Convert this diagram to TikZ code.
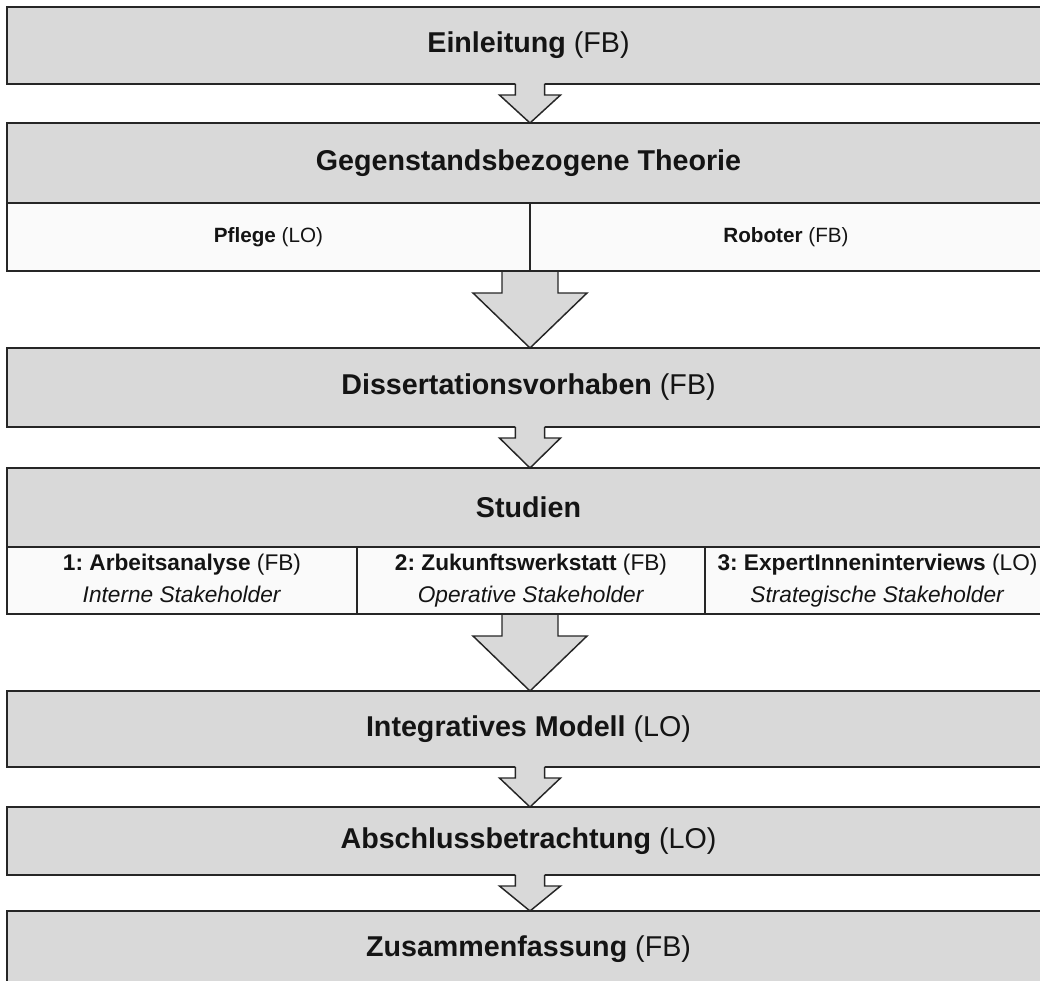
\documentclass[tikz,border=0pt]{standalone}
\usepackage{fontspec}
\setmainfont{Liberation Sans}
\usetikzlibrary{calc}
\definecolor{boxgray}{HTML}{D9D9D9}
\definecolor{rowwhite}{HTML}{FAFAFA}
\definecolor{edge}{HTML}{262626}
\definecolor{ink}{HTML}{141414}
\frenchspacing

% horizontal axis of all block arrows
\def\arrowaxis{397.5pt}

% #1 from node, #2 to node, #3 stem half width, #4 head half width,
% #5 stem length, #6 how far the fill reaches up into the upper box
\newcommand\blockarrow[6]{%
  \fill[boxgray] let \p1=(#1.south), \p2=(#2.north) in
    ({\arrowaxis-#3},{\y1+#6}) -- ({\arrowaxis-#3},{\y1-#5}) -- ({\arrowaxis-#4},{\y1-#5})
    -- ({\arrowaxis},{\y2}) -- ({\arrowaxis+#4},{\y1-#5}) -- ({\arrowaxis+#3},{\y1-#5})
    -- ({\arrowaxis+#3},{\y1+#6}) -- cycle;
  \draw[arrowline] let \p1=(#1.south), \p2=(#2.north) in
    ({\arrowaxis-#3},{\y1}) -- ({\arrowaxis-#3},{\y1-#5}) -- ({\arrowaxis-#4},{\y1-#5})
    -- ({\arrowaxis},{\y2}) -- ({\arrowaxis+#4},{\y1-#5}) -- ({\arrowaxis+#3},{\y1-#5})
    -- ({\arrowaxis+#3},{\y1});
}
\newcommand\smallblockarrow[2]{\blockarrow{#1}{#2}{10.9pt}{22.9pt}{8.25pt}{1.2pt}}
\newcommand\bigblockarrow[2]{\blockarrow{#1}{#2}{21pt}{42.75pt}{16.5pt}{-0.8pt}}

\begin{document}
\begin{tikzpicture}[x=0.75pt,y=-0.75pt,
  box/.style={draw=edge, line width=1.5pt, fill=boxgray, anchor=north west,
    inner sep=0pt, outer sep=0pt, text=ink, align=center,
    minimum width=782.25pt, font=\fontsize{21.5}{25}\selectfont},
  rowbox/.style={draw=edge, line width=1.5pt, fill=rowwhite, anchor=north west,
    inner sep=0pt, outer sep=0pt, text=ink, align=center},
  themerow/.style={rowbox, minimum height=51pt, font=\fontsize{15.5}{19}\selectfont},
  studyrow/.style={rowbox, minimum height=50.25pt, font=\fontsize{17}{24}\selectfont},
  arrowline/.style={draw=edge, line width=1.1pt, line join=miter},
]
\useasboundingbox (0,0) rectangle (1040,981);
\clip (0,0) rectangle (1040,981);

% chapters
\node[box, minimum height=57.75pt] (ein) at (7,7) {\textbf{Einleitung} (FB)};
\node[box, minimum height=60pt] (geg) at (7,123) {\textbf{Gegenstandsbezogene Theorie}};
\node[themerow, minimum width=392.25pt] (pfl) at (7,203) {\textbf{Pflege} (LO)};
\node[themerow, minimum width=384pt] (rob) at (530,203) {\textbf{Roboter} (FB)};
\node[box, minimum height=59.25pt] (diss) at (7,348) {\textbf{Dissertationsvorhaben} (FB)};
\node[box, minimum height=59.25pt] (stud) at (7,468) {\textbf{Studien}};
\node[studyrow, minimum width=262.5pt] (s1) at (7,547)
  {\strut\textbf{1: Arbeitsanalyse} (FB)\\\strut\textit{Interne Stakeholder}};
\node[studyrow, minimum width=261pt] (s2) at (357,547)
  {\strut\textbf{2: Zukunftswerkstatt} (FB)\\\strut\textit{Operative Stakeholder}};
\node[studyrow, minimum width=258.75pt] (s3) at (705,547)
  {\strut\textbf{3: ExpertInneninterviews} (LO)\\\strut\textit{Strategische Stakeholder}};
\node[box, minimum height=57pt] (intg) at (7,691) {\textbf{Integratives Modell} (LO)};
\node[box, minimum height=51pt] (absch) at (7,807) {\textbf{Abschlussbetrachtung} (LO)};
\node[box, minimum height=57pt] (zus) at (7,911) {\textbf{Zusammenfassung} (FB)};

% arrows between the chapters
\smallblockarrow{ein}{geg}
\bigblockarrow{pfl}{diss}
\smallblockarrow{diss}{stud}
\bigblockarrow{s2}{intg}
\smallblockarrow{intg}{absch}
\smallblockarrow{absch}{zus}
\end{tikzpicture}
\end{document}
